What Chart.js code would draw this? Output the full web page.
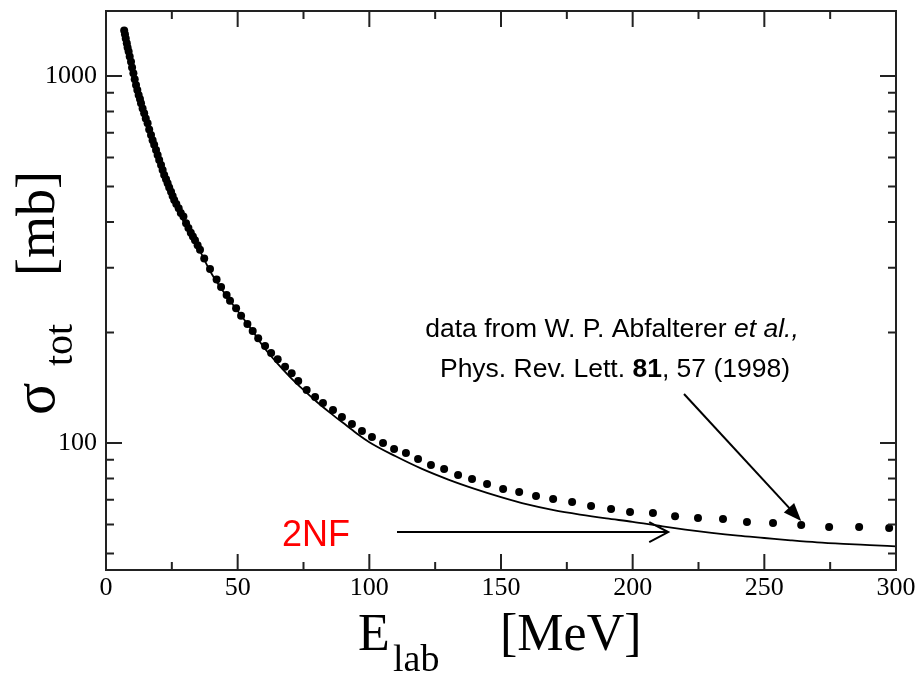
<!DOCTYPE html>
<html>
<head>
<meta charset="utf-8">
<script src="https://cdn.jsdelivr.net/npm/chart.js@4/dist/chart.umd.min.js"></script>
<style>
  html, body { margin: 0; padding: 0; background: #fff; }
  #wrap { width: 919px; height: 673px; position: relative; }
</style>
</head>
<body>
<div id="wrap"><canvas id="chart" width="919" height="673"></canvas></div>
<script>
// measured total cross section (dots)
const dataE = [6.9, 7.2, 7.5, 7.9, 8.2, 8.6, 9.0, 9.5, 9.9, 10.4, 10.9, 11.4, 11.9, 12.4, 12.9, 13.3,
  13.9, 14.5, 15.1, 15.8, 16.4, 17.1, 17.7, 18.3, 19.0, 19.6, 20.2, 20.9, 21.5, 22.1, 22.8, 23.4,
  24.0, 24.7, 25.3, 25.9, 26.7, 27.6, 28.4, 29.4, 30.4, 31.3, 32.2, 33.0, 33.8, 34.8, 35.7, 37.3,
  39.5, 42.0, 43.7, 45.8, 47.1, 49.4, 51.3, 53.7, 55.7, 57.8, 60.4, 62.7, 65.2, 68.0, 70.5, 73.0,
  76.2, 79.4, 82.4, 86.2, 89.6, 93.4, 97.2, 101.0, 105.2, 109.4, 113.9, 118.5, 123.4, 128.4,
  133.7, 139.0, 144.7, 150.8, 156.9, 163.3, 169.8, 177.0, 184.2, 191.8, 199.0, 207.7, 216.1,
  224.8, 234.3, 243.4, 253.3, 264.0, 274.6, 286.0, 297.4];
const dataSigma = [1330, 1300, 1265, 1228, 1195, 1165, 1130, 1094, 1055, 1017, 980, 945, 915, 888, 865, 843,
  815, 791, 766, 743, 715, 690, 668, 649, 628, 609, 590, 572, 554, 537, 523, 510,
  497, 484, 471, 459, 448, 436, 423, 414, 397, 385, 374, 365, 357, 346, 336, 318,
  298, 279, 266, 253, 244, 232.8, 222, 211, 202, 193, 183.7, 176, 169, 161.4, 155, 147.5,
  139.4, 133.4, 128.5, 123, 117.7, 112.7, 107.8, 103.8, 100, 96.3, 93.9, 90.4, 87.1, 84.9,
  81.8, 79.8, 77.3, 74.9, 73.5, 71.7, 70.4, 69.1, 67.3, 66.1, 64.9, 64.5, 63.2,
  62.5, 62.1, 60.9, 60.5, 59.8, 59.0, 59.0, 58.7];

// 2NF calculation (solid line)
const nfE = [6.9, 8, 9, 10, 11, 12, 13, 14, 15, 16, 18, 20, 22, 24, 26, 28, 30, 33, 36, 40, 45, 50, 55,
  60, 65, 70, 75, 80, 85, 90, 95, 100, 110, 120, 130, 140, 150, 160, 170, 180, 190, 200,
  210, 220, 230, 240, 250, 260, 270, 280, 290, 300];
const nfSigma = [1330, 1200, 1130, 1050, 975, 910, 860, 812, 770, 735, 660, 598, 542, 496, 458, 422, 394, 362, 330, 290, 256, 229, 205,
  182, 165, 151, 139.5, 129.5, 121, 113.5, 106.5, 100.5, 92, 85, 79.5, 75, 71.2, 68, 65.6, 63.8, 62.3, 61.0,
  59.5, 58.1, 56.9, 55.9, 55.1, 54.3, 53.6, 53.1, 52.7, 52.3];

const xTicks = [0, 50, 100, 150, 200, 250, 300];
const xMinor = [25, 75, 125, 175, 225, 275];
const yTicks = [100, 1000];
const yMinor = [50, 60, 70, 80, 90, 200, 300, 400, 500, 600, 700, 800, 900];

// arrows, in data units [E, sigma]
const refArrow = { from: [219.5, 136], to: [264, 61.3] };
const nfArrow = { from: [110.5, 57.2], to: [213.5, 57.2] };

const serif = '"Liberation Serif", "Times New Roman", serif';
const sans = '"Liberation Sans", Arial, sans-serif';

const decor = {
  id: 'decor',
  afterDraw(chart) {
    const { ctx, chartArea: a, scales: { x, y } } = chart;
    ctx.save();
    // frame + inward ticks on all four sides
    ctx.strokeStyle = '#222';
    ctx.lineWidth = 2;
    ctx.strokeRect(a.left, a.top, a.right - a.left, a.bottom - a.top);
    ctx.beginPath();
    const xt = (v, len) => {
      const p = x.getPixelForValue(v);
      ctx.moveTo(p, a.bottom); ctx.lineTo(p, a.bottom - len);
      ctx.moveTo(p, a.top); ctx.lineTo(p, a.top + len);
    };
    const yt = (v, len) => {
      const p = y.getPixelForValue(v);
      ctx.moveTo(a.left, p); ctx.lineTo(a.left + len, p);
      ctx.moveTo(a.right, p); ctx.lineTo(a.right - len, p);
    };
    xTicks.forEach(v => xt(v, 16));
    xMinor.forEach(v => xt(v, 8));
    yTicks.forEach(v => yt(v, 16));
    yMinor.forEach(v => yt(v, 8));
    ctx.stroke();

    // axis titles
    ctx.fillStyle = '#000';
    ctx.textBaseline = 'alphabetic';
    ctx.textAlign = 'left';
    ctx.font = '52px ' + serif;
    ctx.fillText('E', 358, 650);
    ctx.fillText('[MeV]', 500, 650);
    ctx.font = '38px ' + serif;
    ctx.fillText('lab', 393, 671);

    ctx.save();
    ctx.translate(54, 415);
    ctx.rotate(-Math.PI / 2);
    ctx.font = '60px ' + serif;
    ctx.fillText('σ', 0, 0);
    ctx.restore();
    ctx.save();
    ctx.translate(72, 366);
    ctx.rotate(-Math.PI / 2);
    ctx.font = '40px ' + serif;
    ctx.fillText('tot', 0, 0);
    ctx.restore();
    ctx.save();
    ctx.translate(54, 276);
    ctx.rotate(-Math.PI / 2);
    ctx.font = '54px ' + serif;
    ctx.fillText('[mb]', 0, 0);
    ctx.restore();

    // reference note
    const line = (parts, cx, base) => {
      let w = 0;
      parts.forEach(p => { ctx.font = p[1] + ' 26.5px ' + sans; w += ctx.measureText(p[0]).width; });
      let px = cx - w / 2;
      parts.forEach(p => {
        ctx.font = p[1] + ' 26.5px ' + sans;
        ctx.fillText(p[0], px, base);
        px += ctx.measureText(p[0]).width;
      });
    };
    line([['data from W. P. Abfalterer ', 'normal'], ['et al.,', 'italic']], 612, 337);
    line([['Phys. Rev. Lett. ', 'normal'], ['81', 'bold'], [', 57 (1998)', 'normal']], 615, 377);

    ctx.fillStyle = '#ff0000';
    ctx.font = '36px ' + sans;
    ctx.fillText('2NF', 282, 546);

    // arrow to the data
    ctx.strokeStyle = '#000';
    ctx.fillStyle = '#000';
    ctx.lineWidth = 2;
    let x0 = x.getPixelForValue(refArrow.from[0]), y0 = y.getPixelForValue(refArrow.from[1]);
    let x1 = x.getPixelForValue(refArrow.to[0]), y1 = y.getPixelForValue(refArrow.to[1]);
    let ang = Math.atan2(y1 - y0, x1 - x0);
    ctx.beginPath();
    ctx.moveTo(x0, y0);
    ctx.lineTo(x1 - 12 * Math.cos(ang), y1 - 12 * Math.sin(ang));
    ctx.stroke();
    ctx.beginPath();
    ctx.moveTo(x1, y1);
    ctx.lineTo(x1 - 18 * Math.cos(ang) + 7 * Math.sin(ang), y1 - 18 * Math.sin(ang) - 7 * Math.cos(ang));
    ctx.lineTo(x1 - 18 * Math.cos(ang) - 7 * Math.sin(ang), y1 - 18 * Math.sin(ang) + 7 * Math.cos(ang));
    ctx.closePath();
    ctx.fill();

    // open arrow to the 2NF curve
    x0 = x.getPixelForValue(nfArrow.from[0]); y0 = y.getPixelForValue(nfArrow.from[1]);
    x1 = x.getPixelForValue(nfArrow.to[0]); y1 = y.getPixelForValue(nfArrow.to[1]);
    ctx.beginPath();
    ctx.moveTo(x0, y0);
    ctx.lineTo(x1, y1);
    ctx.moveTo(x1 - 19, y1 - 10);
    ctx.lineTo(x1, y1);
    ctx.lineTo(x1 - 19, y1 + 10);
    ctx.stroke();
    ctx.restore();
  }
};

new Chart(document.getElementById('chart'), {
  type: 'scatter',
  data: {
    datasets: [
      {
        label: 'data',
        data: dataE.map((e, i) => ({ x: e, y: dataSigma[i] })),
        showLine: false,
        pointRadius: 4,
        pointBackgroundColor: '#000',
        pointBorderWidth: 0,
        order: 0
      },
      {
        label: '2NF',
        data: nfE.map((e, i) => ({ x: e, y: nfSigma[i] })),
        showLine: true,
        pointRadius: 0,
        borderColor: '#000',
        borderWidth: 1.8,
        cubicInterpolationMode: 'monotone',
        order: 1
      }
    ]
  },
  options: {
    responsive: false,
    animation: false,
    layout: { padding: { top: 11, right: 23, left: 0, bottom: 0 } },
    plugins: { legend: { display: false }, tooltip: { enabled: false } },
    scales: {
      x: {
        type: 'linear',
        min: 0,
        max: 300,
        afterBuildTicks: s => { s.ticks = xTicks.map(v => ({ value: v })); },
        afterFit: s => { s.height = 103; s.paddingLeft = 0; s.paddingRight = 0; },
        grid: { display: false, drawTicks: false },
        border: { display: false },
        ticks: { color: '#000', padding: 3, maxRotation: 0, font: { family: serif, size: 26 } }
      },
      y: {
        type: 'logarithmic',
        min: 45.08,
        max: 1503,
        afterBuildTicks: s => { s.ticks = yTicks.map(v => ({ value: v })); },
        afterFit: s => { s.width = 106; s.paddingTop = 0; s.paddingBottom = 0; },
        grid: { display: false, drawTicks: false },
        border: { display: false },
        ticks: { color: '#000', padding: 9, font: { family: serif, size: 26 }, callback: v => String(v) }
      }
    }
  },
  plugins: [decor]
});
</script>
</body>
</html>
